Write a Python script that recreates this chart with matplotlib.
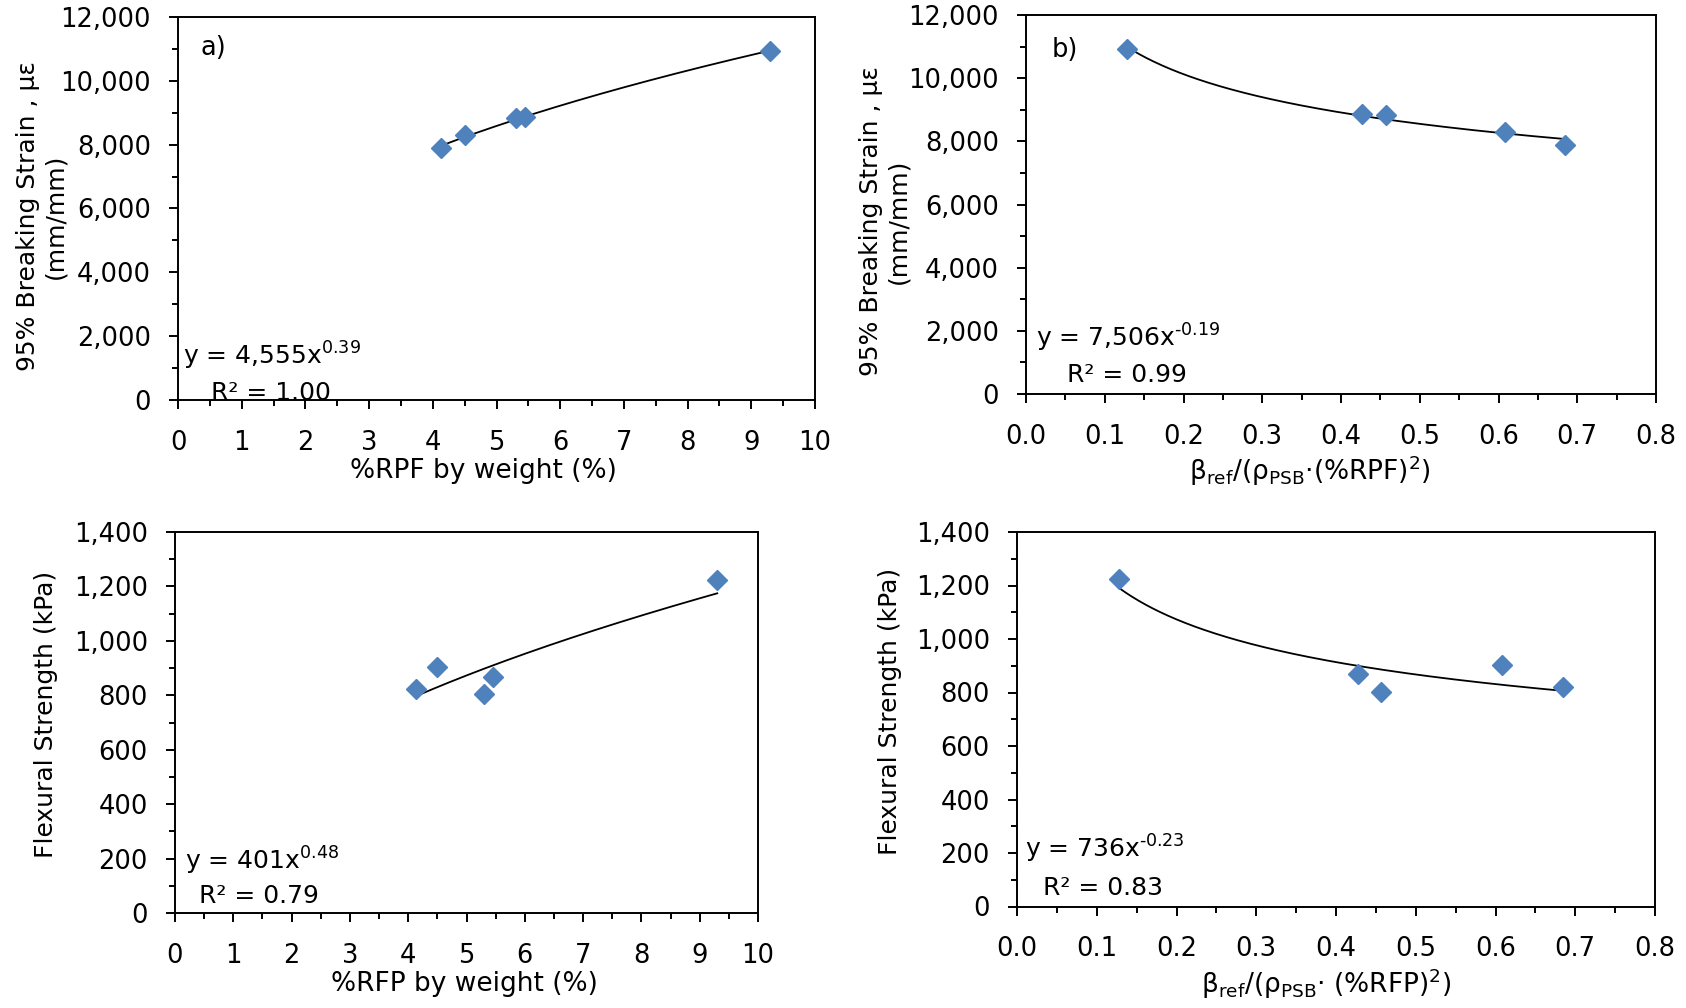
import numpy as np
import matplotlib
matplotlib.use("Agg")
import matplotlib.pyplot as plt
from matplotlib.ticker import MultipleLocator, FuncFormatter

# ---------------- data ----------------
pct_weight = [4.13, 4.50, 5.30, 5.45, 9.30]          # %RPF / %RFP by weight
beta_ratio = [0.685, 0.608, 0.457, 0.427, 0.128]      # beta_ref/(rho_PSB*(%)^2)
breaking_strain = [7880, 8300, 8840, 8880, 10920]     # 95% breaking strain (mm/mm, micro)
flexural_strength = [822, 904, 803, 868, 1224]        # kPa

panel_tags = ["a)", "b)", "", ""]
eq_texts = ["y = 4,555x$^{0.39}$", "y = 7,506x$^{\u20100.19}$",
            "y = 401x$^{0.48}$", "y = 736x$^{\u20100.23}$"]
r2_texts = ["R² = 1.00", "R² = 0.99", "R² = 0.79", "R² = 0.83"]
xlabels = ["%RPF by weight (%)",
           r"β$_{\mathregular{ref}}$/(ρ$_{\mathregular{PSB}}$·(%RPF)$^{\mathregular{2}}$)",
           "%RFP by weight (%)",
           r"β$_{\mathregular{ref}}$/(ρ$_{\mathregular{PSB}}$· (%RFP)$^{\mathregular{2}}$)"]
ylabels = ["95% Breaking Strain , με\n(mm/mm)", "95% Breaking Strain , με\n(mm/mm)",
           "Flexural Strength (kPa)", "Flexural Strength (kPa)"]

plt.rcParams["font.family"] = ["DejaVu Sans"]
plt.rcParams["mathtext.fontset"] = "dejavusans"

W, H = 1686, 1008
fig = plt.figure(figsize=(W / 100, H / 100), dpi=100)


def box(l, r, t, b):
    return [l / W, 1 - b / H, (r - l) / W, (b - t) / H]


rects = [box(178, 815, 17, 400), box(1026, 1656, 15, 394),
         box(175, 758, 532, 913), box(1017, 1655, 532, 906.5)]

xs_all = [pct_weight, beta_ratio, pct_weight, beta_ratio]
ys_all = [breaking_strain, breaking_strain, flexural_strength, flexural_strength]
xlims = [(0, 10), (0, 0.8), (0, 10), (0, 0.8)]
ylims = [(0, 12000), (0, 12000), (0, 1400), (0, 1400)]
xmaj = [1, 0.1, 1, 0.1]
ymaj = [2000, 2000, 200, 200]
eq_pos = [(0.008, 0.093), (0.016, 0.125), (0.018, 0.115), (0.0125, 0.13)]
r2_pos = [(0.052, 0.0), (0.065, 0.031), (0.042, 0.027), (0.041, 0.032)]
xlab_pos = [(0.48, -0.185), (0.45, -0.203), (0.497, -0.186), (0.484, -0.207)]
ylab_pos = [(-0.214, 0.48), (-0.224, 0.455), (-0.221, 0.52), (-0.199, 0.52)]
tag_pos = [(0.036, 0.92), (0.041, 0.908)]

marker_color = "#4F81BD"

for i in range(4):
    ax = fig.add_axes(rects[i])
    x = np.array(xs_all[i], dtype=float)
    y = np.array(ys_all[i], dtype=float)

    # power-law trendline fitted to the points
    b, loga = np.polyfit(np.log(x), np.log(y), 1)
    xf = np.linspace(x.min(), x.max(), 200)
    ax.plot(xf, np.exp(loga) * xf ** b, color="black", lw=1.3, zorder=2)

    ax.plot(x, y, linestyle="none", marker="D", markersize=9.8,
            color=marker_color, markeredgecolor=marker_color, zorder=3)

    ax.set_xlim(*xlims[i])
    ax.set_ylim(*ylims[i])
    ax.xaxis.set_major_locator(MultipleLocator(xmaj[i]))
    ax.xaxis.set_minor_locator(MultipleLocator(xmaj[i] / 2))
    ax.yaxis.set_major_locator(MultipleLocator(ymaj[i]))
    ax.yaxis.set_minor_locator(MultipleLocator(ymaj[i] / 2))
    if xmaj[i] < 1:
        ax.xaxis.set_major_formatter(FuncFormatter(lambda v, p: f"{v:.1f}"))
    else:
        ax.xaxis.set_major_formatter(FuncFormatter(lambda v, p: f"{v:.0f}"))
    ax.yaxis.set_major_formatter(FuncFormatter(lambda v, p: f"{int(round(v)):,}"))

    ax.tick_params(which="major", direction="out", length=6.5, width=1.4,
                   labelsize=18.5, color="black")
    ax.tick_params(which="minor", direction="out", length=4.5, width=1.4,
                   color="black")
    ax.tick_params(axis="x", which="major", pad=15)
    ax.tick_params(axis="y", which="major", pad=13)
    for s in ax.spines.values():
        s.set_linewidth(1.4)
        s.set_color("black")

    ax.set_xlabel(xlabels[i], fontsize=19, va="center")
    ax.xaxis.set_label_coords(*xlab_pos[i])
    ax.set_ylabel(ylabels[i], fontsize=18, va="center", ha="center",
                  multialignment="center", linespacing=1.2)
    ax.yaxis.set_label_coords(*ylab_pos[i])

    ax.text(eq_pos[i][0], eq_pos[i][1], eq_texts[i], transform=ax.transAxes,
            fontsize=18, ha="left", va="baseline")
    ax.text(r2_pos[i][0], r2_pos[i][1], r2_texts[i], transform=ax.transAxes,
            fontsize=18, ha="left", va="baseline")
    if panel_tags[i]:
        ax.text(tag_pos[i][0], tag_pos[i][1], panel_tags[i],
                transform=ax.transAxes, fontsize=18.5, ha="left", va="center")

fig.savefig("out.png", dpi=100, facecolor="white")
